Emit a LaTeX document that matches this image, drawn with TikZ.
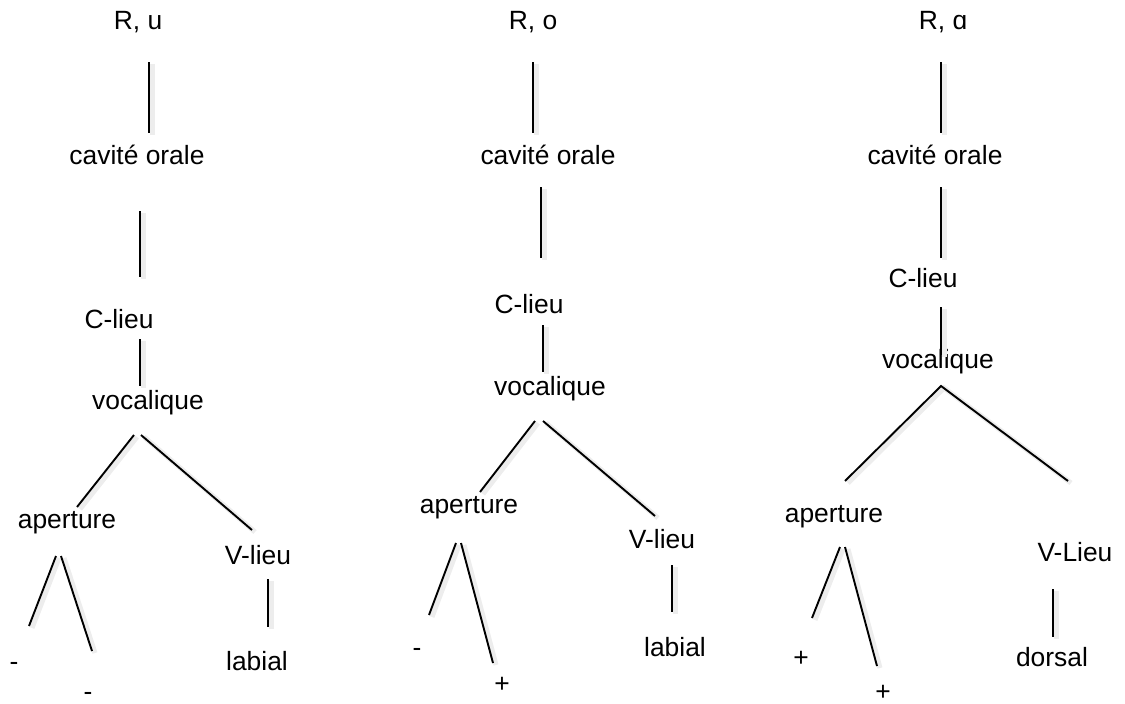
\documentclass[tikz,border=0pt]{standalone}
\usepackage{fontspec}
\setmainfont{Liberation Sans}
\usepackage{tikz}
\usetikzlibrary{calc}

\tikzset{
	lab/.style={font=\fontsize{26.4}{30}\selectfont, inner sep=0pt, anchor=base},
	branch/.style={line width=1.9pt, line cap=butt,
		preaction={draw=black!7, line width=5pt, transform canvas={shift={(3pt,-2pt)}}}},
}

\begin{document}
\begin{tikzpicture}[x=1pt,y=-1pt]
	
	\useasboundingbox (0,0) rectangle (1125,704);
	
	% arbre R, u
	\node (ru) at (138,29)[lab] {R, u};
	\node (cavu) at (137,164)[lab] {cavité orale};
	\node (clu) at (119,328)[lab] {C-lieu};
	\node (vocu) at (148,409)[lab] {vocalique};
	\node (apu) at (67,528)[lab] {aperture};
	\node (vlu) at (258,564)[lab] {V-lieu};
	\node (apua) at (14,670)[lab] {-};
	\node (apub) at (88,700)[lab] {-};
	\node (labu) at (257,670)[lab] {labial};
	
	\draw[branch] (149,62) coordinate (u1) -- (149,133) coordinate (u2);
	\draw[branch] (140,211) coordinate (u3) -- (140,277) coordinate (u4);
	\draw[branch] (140,339) coordinate (u5) -- (140,386) coordinate (u6);
	\draw[branch] (134,435) coordinate (u7) -- (77,507) coordinate (u8);
	\draw[branch] (141,435) coordinate (u9) -- (252,530) coordinate (u10);
	\draw[branch] (56,556) coordinate (u11) -- (29,626) coordinate (u12);
	\draw[branch] (61,556) coordinate (u13) -- (92,651) coordinate (u14);
	\draw[branch] (268,579) coordinate (u15) -- (268,627) coordinate (u16);
	
	% arbre R, o
	\node (ro) at (533,29)[lab] {R, o};
	\node (cavo) at (548,164)[lab] {cavité orale};
	\node (clo) at (529,313)[lab] {C-lieu};
	\node (voco) at (550,395)[lab] {vocalique};
	\node (apo) at (469,513)[lab] {aperture};
	\node (vlo) at (662,548)[lab] {V-lieu};
	\node (apoa) at (417,656)[lab] {-};
	\node (apob) at (502,692)[lab] {+};
	\node (labo) at (675,656)[lab] {labial};
	
	\draw[branch] (533,62) coordinate (o1) -- (533,133) coordinate (o2);
	\draw[branch] (541,187) coordinate (o3) -- (541,258) coordinate (o4);
	\draw[branch] (543,325) coordinate (o5) -- (543,372) coordinate (o6);
	\draw[branch] (535,421) coordinate (o7) -- (480,492) coordinate (o8);
	\draw[branch] (543,421) coordinate (o9) -- (655,516) coordinate (o10);
	\draw[branch] (456,543) coordinate (o11) -- (429,615) coordinate (o12);
	\draw[branch] (461,543) coordinate (o13) -- (493,663) coordinate (o14);
	\draw[branch] (672,565) coordinate (o15) -- (672,612) coordinate (o16);
	
	% arbre R, a
	\node (ra) at (943,29)[lab] {R, ɑ};
	\node (cava) at (935,164)[lab] {cavité orale};
	\node (cla) at (923,287)[lab] {C-lieu};
	\node (voca) at (938,368)[lab] {vocalique};
	\node (apa) at (834,522)[lab] {aperture};
	\node (vla) at (1075,561)[lab] {V-Lieu};
	\node (apaa) at (801,666)[lab] {+};
	\node (apab) at (883,700)[lab] {+};
	\node (dora) at (1052,666)[lab] {dorsal};
	
	\draw[branch] (941,62) coordinate (a1) -- (941,133) coordinate (a2);
	\draw[branch] (941,187) coordinate (a3) -- (941,258) coordinate (a4);
	\draw[branch] (941,307) coordinate (a5) -- (941,355) coordinate (a6);
	\draw[branch] (845,481) coordinate (a7) -- (941,386) coordinate (a8) -- (1068,481) coordinate (a9);
	\draw[branch] (840,547) coordinate (a10) -- (812,618) coordinate (a11);
	\draw[branch] (845,547) coordinate (a12) -- (877,666) coordinate (a13);
	\draw[branch] (1053,589) coordinate (a14) -- (1053,637) coordinate (a15);
	
\end{tikzpicture}
\end{document}
